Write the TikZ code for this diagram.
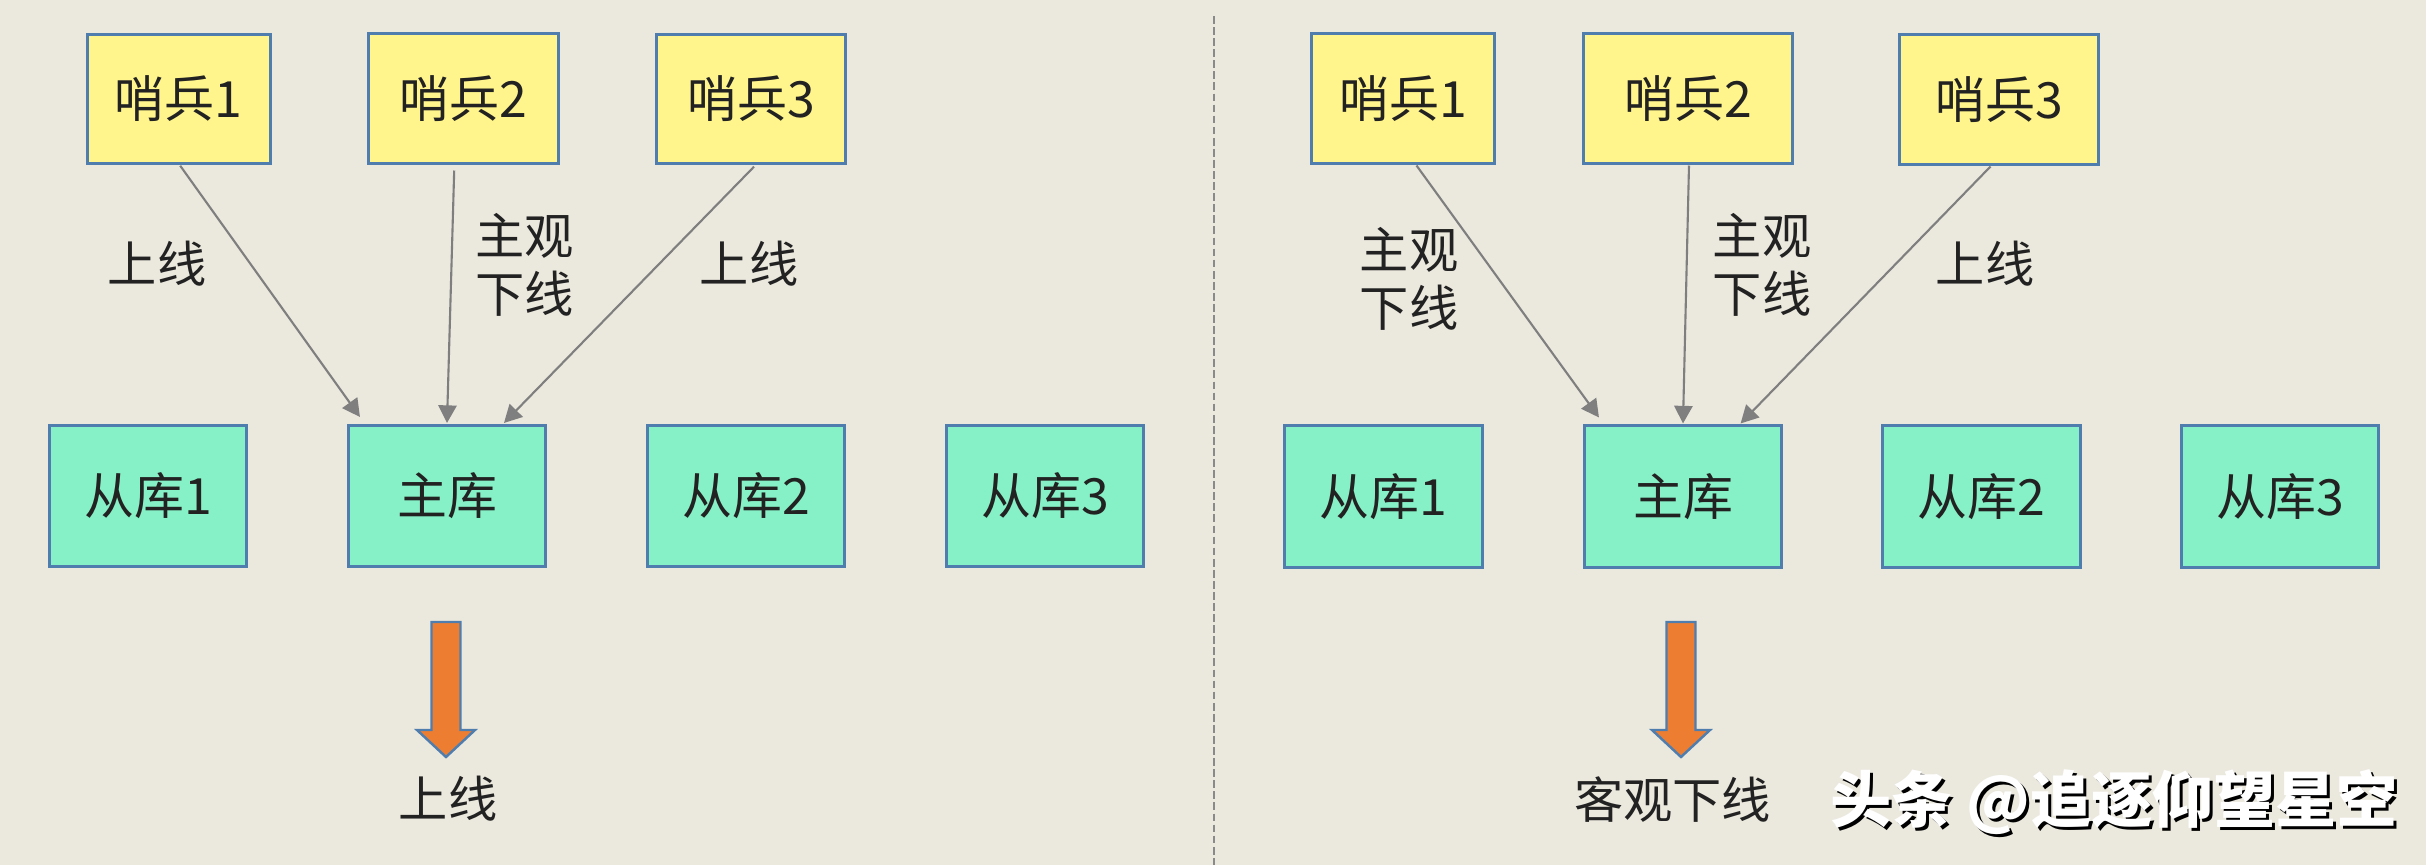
\documentclass[tikz,border=0pt]{standalone}
\usepackage{fontspec}
\newfontfamily\cjk{Noto Sans CJK SC}
\usetikzlibrary{calc,arrows.meta}
\definecolor{bg}{HTML}{EBE8DE}
\definecolor{sentfill}{HTML}{FFF58C}
\definecolor{dbfill}{HTML}{86F0C6}
\definecolor{boxline}{HTML}{4F7DAE}
\definecolor{connc}{HTML}{7F7F7F}
\definecolor{txt}{HTML}{222222}
\definecolor{orangearrow}{HTML}{ED7D31}
\definecolor{divider}{HTML}{8A8A8A}
\begin{document}
\begin{tikzpicture}[x=0.01cm,y=-0.01cm,
  box/.style={draw=boxline, line width=0.85pt, inner sep=0pt,
    font=\cjk\fontsize{14.2}{17}\selectfont, text=txt},
  sentinel/.style={box, fill=sentfill, minimum height=1.29cm},
  db/.style={box, fill=dbfill, minimum width=1.97cm, minimum height=1.41cm},
  connector/.style={draw=connc, line width=0.6pt, -{Triangle[length=5pt,width=5.2pt]}},
  lbl/.style={font=\cjk\fontsize{14}{16.5}\selectfont, text=txt, align=left, inner sep=0pt},
  downarr/.pic={\draw[draw=boxline, line width=0.7pt, fill=orangearrow, line join=miter]
    (-14.5,0) -- (14.5,0) -- (14.5,108) -- (29,108) -- (0,135) -- (-29,108) -- (-14.5,108) -- cycle;}
]
\fill[bg] (0,0) rectangle (2426,865);
\useasboundingbox (0,0) rectangle (2426,865);

% divider
\coordinate (dtop) at (1214,16);
\coordinate (dbot) at (1214,865);
\draw[divider, line width=0.6pt, dash pattern=on 2.2pt off 0.95pt] (dtop) -- (dbot);

% ---------- left half ----------
\node[sentinel, minimum width=1.83cm] (ls1) at (178.7,98.7) {哨兵1};
\node[sentinel, minimum width=1.90cm] (ls2) at (463.7,98.5) {哨兵2};
\node[sentinel, minimum width=1.88cm] (ls3) at (751,98.7) {哨兵3};

\node[db] (lr1) at (148,496) {从库1};
\node[db] (lm)  at (447,496) {主库};
\node[db] (lr2) at (746,496) {从库2};
\node[db] (lr3) at (1045,496) {从库3};

\draw[connector] ($(ls1.south)+(1.5,1)$) -- ($(lm.north west)+(13,-7)$);
\draw[connector] ($(ls2.south)+(-9.5,6)$) -- ($(lm.north)+(0,-1)$);
\draw[connector] ($(ls3.south)+(3,2)$) -- ($(lm.north)+(57,-1)$);

\node[lbl] (ll1) at (157,264) {上线};
\node[lbl] (ll2) at (524.5,265) {主观\\下线};
\node[lbl] (ll3) at (749,264) {上线};

\pic at (446,622) {downarr};
\node[lbl] (lres) at (448,799) {上线};

% ---------- right half ----------
\node[sentinel, minimum width=1.82cm] (rs1) at (1403,98.5) {哨兵1};
\node[sentinel, minimum width=2.08cm] (rs2) at (1688,98.5) {哨兵2};
\node[sentinel, minimum width=1.98cm] (rs3) at (1999,99.5) {哨兵3};

\node[db] (rr1) at (1383.5,496.5) {从库1};
\node[db] (rm)  at (1683,496.5) {主库};
\node[db] (rr2) at (1981.5,496.5) {从库2};
\node[db] (rr3) at (2280,496.5) {从库3};

\draw[connector] ($(rs1.south)+(13.5,1)$) -- ($(rm.north west)+(16,-7)$);
\draw[connector] ($(rs2.south)+(1,1)$) -- ($(rm.north)+(0,-1)$);
\draw[connector] ($(rs3.south)+(-8.5,1)$) -- ($(rm.north)+(57.6,-1)$);

\node[lbl] (rl1) at (1409,279) {主观\\下线};
\node[lbl] (rl2) at (1762,265) {主观\\下线};
\node[lbl] (rl3) at (1985,264) {上线};

\pic at (1681,622) {downarr};
\node[lbl] (rres) at (1672.5,800) {客观下线};

% watermark
\node[font=\cjk\bfseries\fontsize{17.4}{20}\selectfont, text=black, inner sep=0pt] (wms) at (2117,805) {头条 @追逐仰望星空};
\node[font=\cjk\bfseries\fontsize{17.4}{20}\selectfont, text=white, inner sep=0pt] (wm) at (2114,802) {头条 @追逐仰望星空};
\end{tikzpicture}
\end{document}
